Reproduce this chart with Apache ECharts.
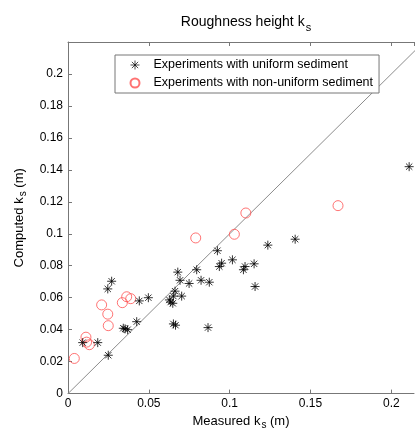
<!DOCTYPE html>
<html>
<head>
<meta charset="utf-8">
<script src="https://cdn.jsdelivr.net/npm/echarts@6/dist/echarts.min.js"></script>
<style>
  html, body { margin: 0; padding: 0; background: #fff; }
  #main { width: 415px; height: 435px; }
</style>
</head>
<body>
<div id="main"></div>
<script>
// measured ks, computed ks (m)
let uniform = [
  [0.211, 0.142], [0.1405, 0.0966], [0.1236, 0.0929], [0.1157, 0.067],
  [0.1151, 0.0812], [0.1095, 0.0795], [0.1085, 0.0775], [0.1017, 0.0837],
  [0.095, 0.0816], [0.0936, 0.0795], [0.0924, 0.0894], [0.0874, 0.0697],
  [0.0866, 0.0413], [0.0823, 0.0709], [0.0796, 0.0775], [0.0749, 0.0689],
  [0.0693, 0.0709], [0.0679, 0.076], [0.0662, 0.0641], [0.0652, 0.061],
  [0.0703, 0.061], [0.0635, 0.0573], [0.0648, 0.0565], [0.0627, 0.0586],
  [0.0652, 0.0436], [0.0665, 0.0428], [0.0497, 0.06], [0.0441, 0.058],
  [0.0425, 0.045], [0.0353, 0.0405], [0.0369, 0.04], [0.0342, 0.0409],
  [0.027, 0.0703], [0.0246, 0.0655], [0.0184, 0.0319], [0.0091, 0.0319],
  [0.0249, 0.024]
];
let nonUniform = [
  [0.167, 0.1176], [0.11, 0.113], [0.1029, 0.0997], [0.079, 0.0974],
  [0.0388, 0.0594], [0.0363, 0.0606], [0.0336, 0.0569], [0.0208, 0.0555],
  [0.0246, 0.0497], [0.0249, 0.0425], [0.0111, 0.0353], [0.0115, 0.0322],
  [0.0132, 0.0306], [0.0039, 0.022]
];
let perfectLine = [[0, 0], [0.23, 0.23]];

let xMax = 0.214;
let yMax = 0.22;

let fmt = (v) => (v === 0 ? "0" : String(+v.toFixed(3)));

let axisColor = "#777";
let font = "Liberation Sans, Arial, sans-serif";

let star = "path://M0,-1L0,1M-1,0L1,0M-0.7,-0.7L0.7,0.7M-0.7,0.7L0.7,-0.7";

let initChart = echarts.init(document.getElementById("main"), null, {
  renderer: "canvas",
});

let option = {
  animation: false,
  textStyle: { fontFamily: font, color: "#000" },
  title: {
    text: "{a|Roughness height k}{s|s}",
    left: 241,
    textAlign: "center",
    top: 7,
    textStyle: {
      fontWeight: "normal",
      rich: {
        a: { fontSize: 14, fontFamily: font, color: "#000", lineHeight: 18, fontWeight: "normal" },
        s: { fontSize: 11, fontFamily: font, color: "#000", padding: [10, 0, 0, 1], fontWeight: "normal" },
      },
    },
  },
  grid: { left: 68, right: 1, top: 42, bottom: 36 },
  legend: {
    orient: "vertical",
    left: 115,
    top: 55,
    padding: [3, 6, 3, 13],
    itemGap: 4,
    itemWidth: 9,
    itemHeight: 9,
    backgroundColor: "#fff",
    borderColor: axisColor,
    borderWidth: 1,
    borderRadius: 0,
    textStyle: { fontSize: 12.5, fontFamily: font, color: "#000", padding: [0, 0, 0, 9] },
    data: [
      { name: "Experiments with uniform sediment", itemStyle: { color: "none", borderColor: "#000", borderWidth: 1, opacity: 0.7 } },
      { name: "Experiments with non-uniform sediment" },
    ],
  },
  xAxis: [
    {
      type: "value",
      min: 0,
      max: xMax,
      interval: 0.05,
      name: "{a|Measured k}{s|s}{a| (m)}",
      nameLocation: "middle",
      nameGap: 17,
      nameTextStyle: {
        rich: {
          a: { fontSize: 13, fontFamily: font, color: "#000", lineHeight: 16 },
          s: { fontSize: 10, fontFamily: font, color: "#000", padding: [8, 0, 0, 1] },
        },
      },
      axisLine: { show: true, lineStyle: { color: axisColor } },
      axisTick: { show: true, inside: true, length: 4, lineStyle: { color: axisColor } },
      axisLabel: { fontSize: 12, color: "#000", margin: 4, formatter: fmt, showMaxLabel: false },
      splitLine: { show: false },
    },
    {
      type: "value",
      position: "top",
      min: 0,
      max: xMax,
      interval: 0.05,
      axisLine: { show: true, onZero: false, lineStyle: { color: axisColor } },
      axisTick: { show: true, inside: true, length: 4, lineStyle: { color: axisColor } },
      axisLabel: { show: false },
      splitLine: { show: false },
    },
  ],
  yAxis: [
    {
      type: "value",
      min: 0,
      max: yMax,
      interval: 0.02,
      name: "{a|Computed k}{s|s}{a| (m)}",
      nameLocation: "middle",
      nameGap: 32,
      nameRotate: 90,
      nameTextStyle: {
        rich: {
          a: { fontSize: 13, fontFamily: font, color: "#000", lineHeight: 16 },
          s: { fontSize: 10, fontFamily: font, color: "#000", padding: [8, 0, 0, 1] },
        },
      },
      axisLine: { show: true, lineStyle: { color: axisColor } },
      axisTick: { show: true, inside: true, length: 4, lineStyle: { color: axisColor } },
      axisLabel: { fontSize: 12, color: "#000", margin: 5, formatter: fmt, showMaxLabel: false },
      splitLine: { show: false },
    },
  ],
  series: [
    {
      name: "identity",
      type: "line",
      data: perfectLine,
      symbol: "none",
      clip: true,
      silent: true,
      lineStyle: { color: "#8c8c8c", width: 1 },
      z: 1,
    },
    {
      name: "Experiments with uniform sediment",
      type: "scatter",
      data: uniform,
      symbol: star,
      symbolSize: 9,
      itemStyle: { color: "none", borderColor: "#000", borderWidth: 1, opacity: 0.8 },
      z: 3,
    },
    {
      name: "Experiments with non-uniform sediment",
      type: "scatter",
      data: nonUniform,
      symbol: "circle",
      symbolSize: 10,
      itemStyle: { color: "none", borderColor: "#ff5050", borderWidth: 1 },
      z: 2,
    },
  ],
};

initChart.setOption(option);
</script>
</body>
</html>
